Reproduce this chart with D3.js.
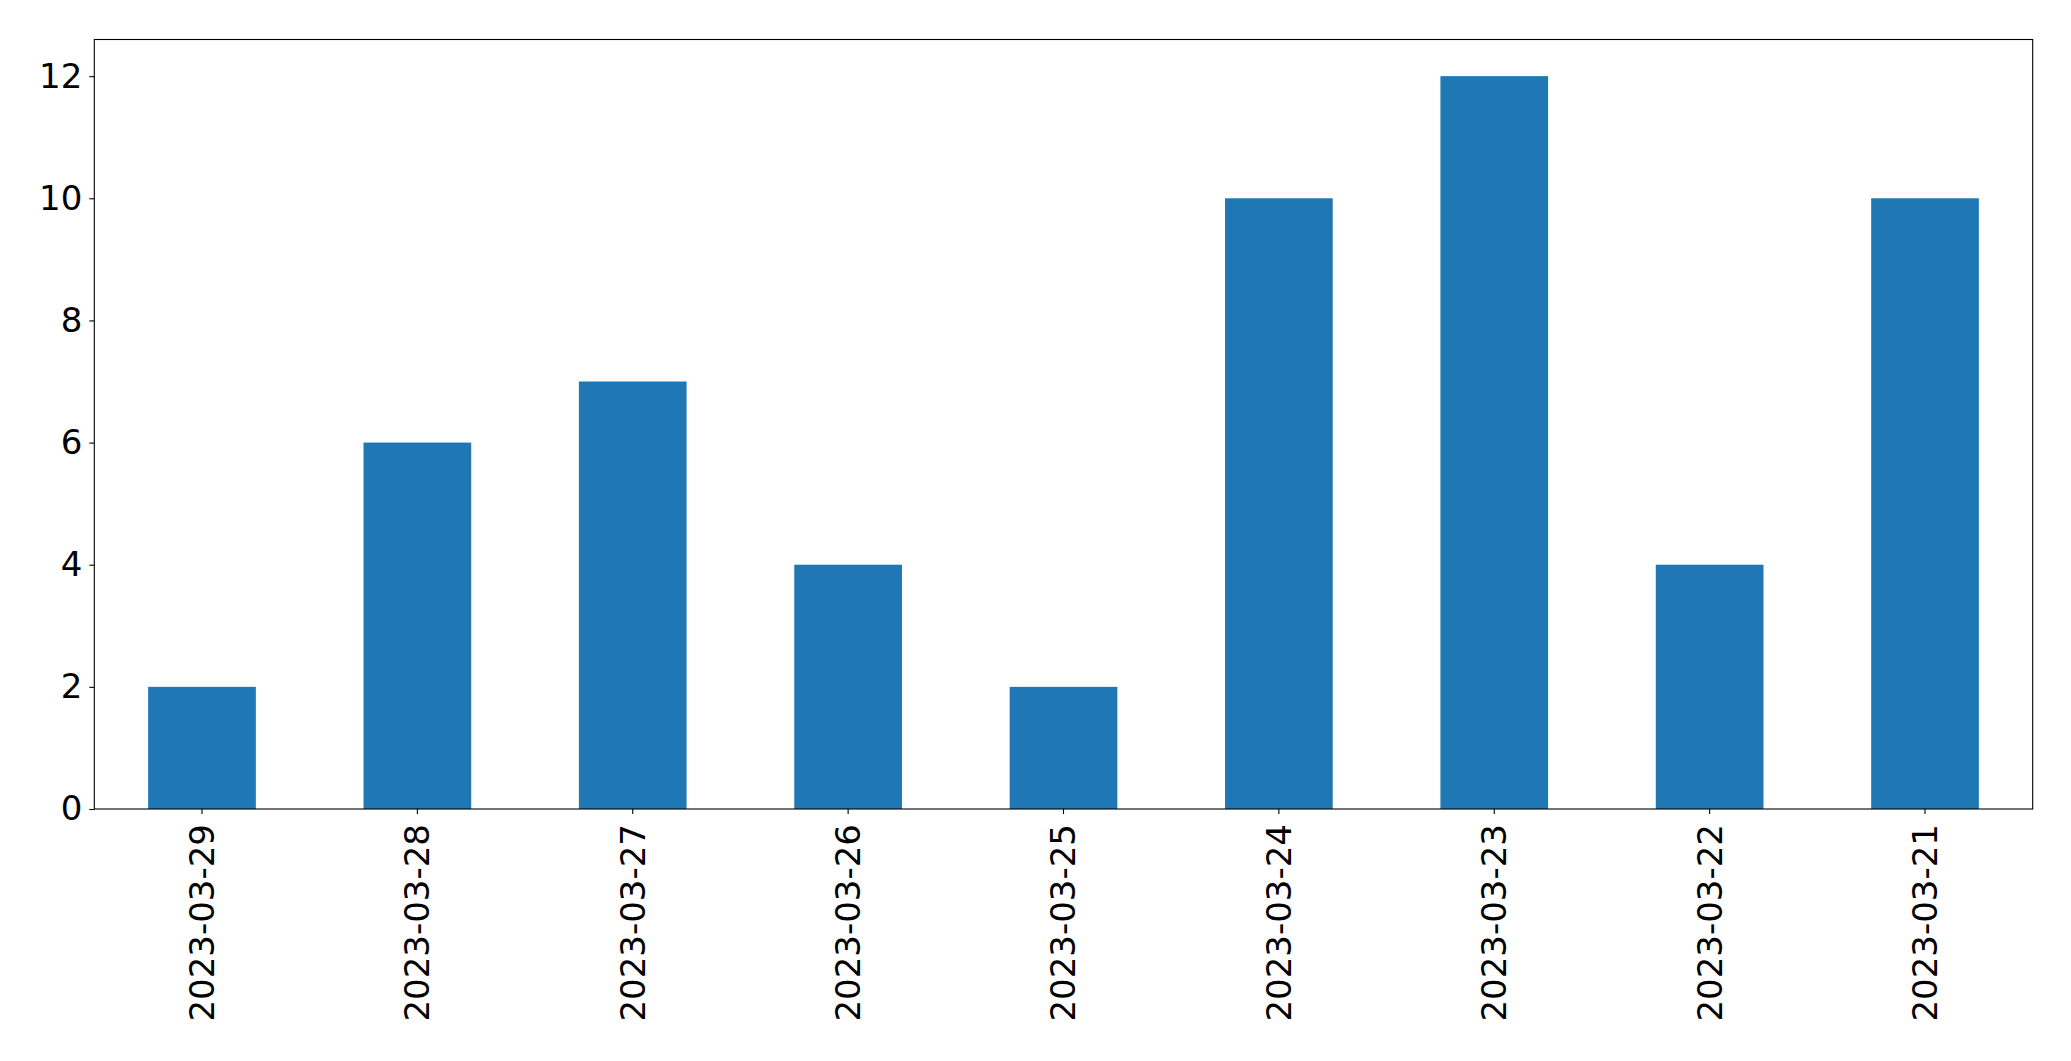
<!DOCTYPE html>
<html><head><meta charset="utf-8">
<script src="https://cdn.jsdelivr.net/npm/d3@7"></script>
<style>body{margin:0;background:#fff}svg{display:block}</style>
</head><body>
<script>
const categories = ["2023-03-29","2023-03-28","2023-03-27","2023-03-26","2023-03-25","2023-03-24","2023-03-23","2023-03-22","2023-03-21"];
const values = [2,6,7,4,2,10,12,4,10];
const yTicks = [0,2,4,6,8,10,12];

const W = 2071, H = 1061;
const m = {left: 94.3, right: 2071-2032.7, top: 39.5, bottom: 1061-809};
const svg = d3.select("body").append("svg").attr("width", W).attr("height", H);
const iw = W - m.left - m.right, ih = H - m.top - m.bottom;
const g = svg.append("g").attr("transform", `translate(${m.left},${m.top})`);

const x = d3.scaleBand().domain(categories).range([0, iw]).paddingInner(0.5).paddingOuter(0.25);
const y = d3.scaleLinear().domain([0, 12.6]).range([ih, 0]);

g.selectAll("rect.bar").data(values).join("rect").attr("class","bar")
  .attr("x", (d,i) => x(categories[i])).attr("width", x.bandwidth())
  .attr("y", d => y(d)).attr("height", d => y(0) - y(d))
  .attr("fill", "#1f77b4");

const font = "'DejaVu Sans', sans-serif";
const ya = g.append("g").call(d3.axisLeft(y).tickValues(yTicks).tickSize(5).tickPadding(7).tickFormat(d3.format("d")));
ya.select(".domain").remove();
ya.selectAll("text").attr("font-family", font).attr("font-size", 34).attr("fill","#000");
ya.selectAll("line").attr("stroke","#000").attr("stroke-width",1.1);

const xa = g.append("g").attr("transform", `translate(0,${ih})`).call(d3.axisBottom(x).tickSize(5).tickPadding(0));
xa.select(".domain").remove();
xa.selectAll("line").attr("stroke","#000").attr("stroke-width",1.1);
xa.selectAll("text").attr("font-family", font).attr("font-size", 34).attr("fill","#000")
  .attr("transform","rotate(-90)").attr("text-anchor","end").attr("dy","0.35em").attr("x",-15).attr("y",0);

g.append("rect").attr("x",0).attr("y",0).attr("width",iw).attr("height",ih)
  .attr("fill","none").attr("stroke","#000").attr("stroke-width",1.1);
</script>
</body></html>
